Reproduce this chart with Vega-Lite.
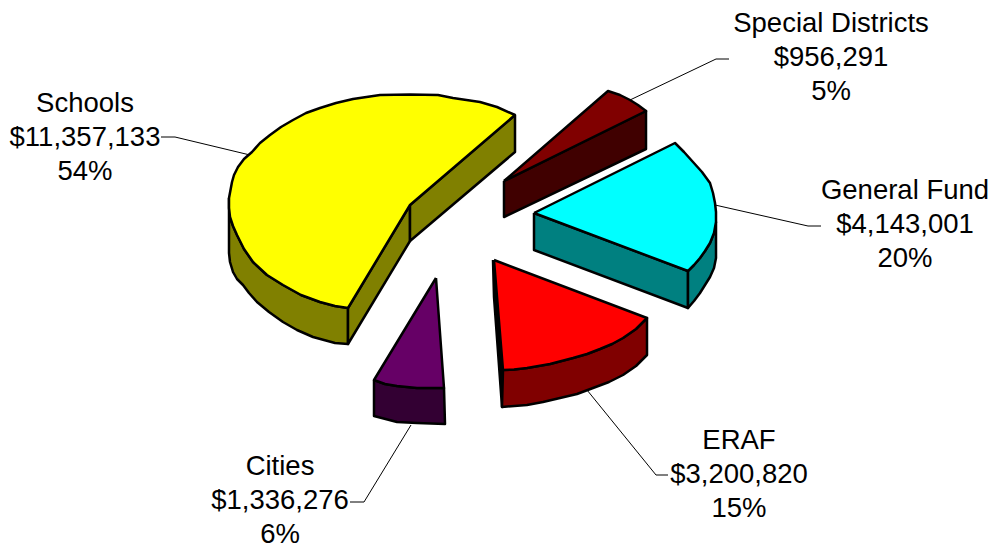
{"$schema":"https://vega.github.io/schema/vega-lite/v6.json","width":993,"height":544,"padding":0,"autosize":"none","background":"white","config":{"view":{"stroke":null}},
"datasets":{
"labels":[
{"slice":"Schools","label":"Schools\n$11,357,133\n54%","lx":85,"ly":104},
{"slice":"Special Districts","label":"Special Districts\n$956,291\n5%","lx":831,"ly":24},
{"slice":"General Fund","label":"General Fund\n$4,143,001\n20%","lx":905,"ly":191},
{"slice":"ERAF","label":"ERAF\n$3,200,820\n15%","lx":739,"ly":441},
{"slice":"Cities","label":"Cities\n$1,336,276\n6%","lx":280,"ly":467}],
"leaders":[
{"slice":"Schools","i":0,"px":161,"py":137},{"slice":"Schools","i":1,"px":175,"py":137},{"slice":"Schools","i":2,"px":250,"py":155},
{"slice":"Special Districts","i":0,"px":729,"py":59},{"slice":"Special Districts","i":1,"px":716,"py":59},{"slice":"Special Districts","i":2,"px":630,"py":100},
{"slice":"General Fund","i":0,"px":821,"py":226},{"slice":"General Fund","i":1,"px":808,"py":226},{"slice":"General Fund","i":2,"px":715,"py":205},
{"slice":"ERAF","i":0,"px":668,"py":475},{"slice":"ERAF","i":1,"px":656,"py":475},{"slice":"ERAF","i":2,"px":587,"py":390},
{"slice":"Cities","i":0,"px":350,"py":502},{"slice":"Cities","i":1,"px":364,"py":502},{"slice":"Cities","i":2,"px":411,"py":425}],
"shapes":[
{"piece":"a1","i":0,"px":229,"py":198},{"piece":"a1","i":1,"px":229,"py":208},{"piece":"a1","i":2,"px":230,"py":217},{"piece":"a1","i":3,"px":233,"py":226},{"piece":"a1","i":4,"px":237,"py":235},{"piece":"a1","i":5,"px":244,"py":249},{"piece":"a1","i":6,"px":253,"py":262},{"piece":"a1","i":7,"px":267,"py":275},{"piece":"a1","i":8,"px":283,"py":285},{"piece":"a1","i":9,"px":301,"py":295},{"piece":"a1","i":10,"px":320,"py":302},{"piece":"a1","i":11,"px":335,"py":306},{"piece":"a1","i":12,"px":348,"py":308},{"piece":"a1","i":13,"px":348,"py":344},{"piece":"a1","i":14,"px":335,"py":343},{"piece":"a1","i":15,"px":313,"py":337},{"piece":"a1","i":16,"px":297,"py":330},{"piece":"a1","i":17,"px":283,"py":322},{"piece":"a1","i":18,"px":269,"py":312},{"piece":"a1","i":19,"px":257,"py":302},{"piece":"a1","i":20,"px":249,"py":293},{"piece":"a1","i":21,"px":243,"py":285},{"piece":"a1","i":22,"px":237,"py":279},{"piece":"a1","i":23,"px":233,"py":272},{"piece":"a1","i":24,"px":230,"py":262},{"piece":"a1","i":25,"px":229,"py":253},{"piece":"a1","i":26,"px":229,"py":198},
{"piece":"a2","i":0,"px":348,"py":308},{"piece":"a2","i":1,"px":410,"py":205},{"piece":"a2","i":2,"px":410,"py":241},{"piece":"a2","i":3,"px":348,"py":344},{"piece":"a2","i":4,"px":348,"py":308},
{"piece":"a3","i":0,"px":410,"py":205},{"piece":"a3","i":1,"px":515,"py":115},{"piece":"a3","i":2,"px":515,"py":152},{"piece":"a3","i":3,"px":410,"py":241},{"piece":"a3","i":4,"px":410,"py":205},
{"piece":"a4","i":0,"px":515,"py":115},{"piece":"a4","i":1,"px":497,"py":107},{"piece":"a4","i":2,"px":480,"py":102},{"piece":"a4","i":3,"px":453,"py":98},{"piece":"a4","i":4,"px":438,"py":95},{"piece":"a4","i":5,"px":410,"py":94.5},{"piece":"a4","i":6,"px":380,"py":95},{"piece":"a4","i":7,"px":353,"py":99},{"piece":"a4","i":8,"px":336,"py":103},{"piece":"a4","i":9,"px":320,"py":108},{"piece":"a4","i":10,"px":306,"py":113},{"piece":"a4","i":11,"px":293,"py":120},{"piece":"a4","i":12,"px":281,"py":127},{"piece":"a4","i":13,"px":270,"py":135},{"piece":"a4","i":14,"px":260,"py":143},{"piece":"a4","i":15,"px":252,"py":152},{"piece":"a4","i":16,"px":244,"py":159},{"piece":"a4","i":17,"px":238,"py":167},{"piece":"a4","i":18,"px":234,"py":175},{"piece":"a4","i":19,"px":232,"py":182},{"piece":"a4","i":20,"px":229,"py":198},{"piece":"a4","i":21,"px":229,"py":208},{"piece":"a4","i":22,"px":230,"py":217},{"piece":"a4","i":23,"px":233,"py":226},{"piece":"a4","i":24,"px":237,"py":235},{"piece":"a4","i":25,"px":244,"py":249},{"piece":"a4","i":26,"px":253,"py":262},{"piece":"a4","i":27,"px":267,"py":275},{"piece":"a4","i":28,"px":283,"py":285},{"piece":"a4","i":29,"px":301,"py":295},{"piece":"a4","i":30,"px":320,"py":302},{"piece":"a4","i":31,"px":335,"py":306},{"piece":"a4","i":32,"px":348,"py":308},{"piece":"a4","i":33,"px":410,"py":205},{"piece":"a4","i":34,"px":515,"py":115},
{"piece":"b1","i":0,"px":504,"py":181},{"piece":"b1","i":1,"px":646,"py":111},{"piece":"b1","i":2,"px":646,"py":149},{"piece":"b1","i":3,"px":504,"py":217},{"piece":"b1","i":4,"px":504,"py":181},
{"piece":"b2","i":0,"px":504,"py":181},{"piece":"b2","i":1,"px":608,"py":91},{"piece":"b2","i":2,"px":620,"py":95},{"piece":"b2","i":3,"px":630,"py":100},{"piece":"b2","i":4,"px":638,"py":105},{"piece":"b2","i":5,"px":646,"py":111},{"piece":"b2","i":6,"px":504,"py":181},
{"piece":"c1","i":0,"px":534,"py":213},{"piece":"c1","i":1,"px":688,"py":271},{"piece":"c1","i":2,"px":688,"py":308},{"piece":"c1","i":3,"px":534,"py":250},{"piece":"c1","i":4,"px":534,"py":213},
{"piece":"c2","i":0,"px":688,"py":271},{"piece":"c2","i":1,"px":694,"py":265},{"piece":"c2","i":2,"px":700,"py":258},{"piece":"c2","i":3,"px":705,"py":251},{"piece":"c2","i":4,"px":710,"py":243},{"piece":"c2","i":5,"px":714,"py":233},{"piece":"c2","i":6,"px":716,"py":222},{"piece":"c2","i":7,"px":716,"py":258},{"piece":"c2","i":8,"px":714,"py":268},{"piece":"c2","i":9,"px":710,"py":277},{"piece":"c2","i":10,"px":705,"py":285},{"piece":"c2","i":11,"px":700,"py":293},{"piece":"c2","i":12,"px":694,"py":301},{"piece":"c2","i":13,"px":688,"py":308},{"piece":"c2","i":14,"px":688,"py":271},
{"piece":"c3","i":0,"px":534,"py":213},{"piece":"c3","i":1,"px":675,"py":143},{"piece":"c3","i":2,"px":684,"py":152},{"piece":"c3","i":3,"px":693,"py":162},{"piece":"c3","i":4,"px":702,"py":172},{"piece":"c3","i":5,"px":710,"py":183},{"piece":"c3","i":6,"px":713,"py":193},{"piece":"c3","i":7,"px":715,"py":203},{"piece":"c3","i":8,"px":716,"py":212},{"piece":"c3","i":9,"px":716,"py":222},{"piece":"c3","i":10,"px":714,"py":233},{"piece":"c3","i":11,"px":710,"py":243},{"piece":"c3","i":12,"px":705,"py":251},{"piece":"c3","i":13,"px":700,"py":258},{"piece":"c3","i":14,"px":694,"py":265},{"piece":"c3","i":15,"px":688,"py":271},{"piece":"c3","i":16,"px":534,"py":213},
{"piece":"d1","i":0,"px":493,"py":260},{"piece":"d1","i":1,"px":503,"py":370},{"piece":"d1","i":2,"px":502,"py":407},{"piece":"d1","i":3,"px":494,"py":297},{"piece":"d1","i":4,"px":493,"py":260},
{"piece":"d2","i":0,"px":503,"py":370},{"piece":"d2","i":1,"px":514,"py":369.5},{"piece":"d2","i":2,"px":527,"py":368},{"piece":"d2","i":3,"px":550,"py":364},{"piece":"d2","i":4,"px":573,"py":358},{"piece":"d2","i":5,"px":587,"py":354},{"piece":"d2","i":6,"px":600,"py":349},{"piece":"d2","i":7,"px":612,"py":344},{"piece":"d2","i":8,"px":623,"py":338},{"piece":"d2","i":9,"px":636,"py":329},{"piece":"d2","i":10,"px":647,"py":318},{"piece":"d2","i":11,"px":647,"py":355},{"piece":"d2","i":12,"px":636,"py":366},{"piece":"d2","i":13,"px":623,"py":375},{"piece":"d2","i":14,"px":609,"py":382},{"piece":"d2","i":15,"px":593,"py":388},{"piece":"d2","i":16,"px":577,"py":394},{"piece":"d2","i":17,"px":560,"py":398},{"piece":"d2","i":18,"px":543,"py":402},{"piece":"d2","i":19,"px":527,"py":405},{"piece":"d2","i":20,"px":502,"py":407},{"piece":"d2","i":21,"px":503,"py":370},
{"piece":"d3","i":0,"px":494,"py":260},{"piece":"d3","i":1,"px":647,"py":318},{"piece":"d3","i":2,"px":636,"py":329},{"piece":"d3","i":3,"px":623,"py":338},{"piece":"d3","i":4,"px":612,"py":344},{"piece":"d3","i":5,"px":600,"py":349},{"piece":"d3","i":6,"px":587,"py":354},{"piece":"d3","i":7,"px":573,"py":358},{"piece":"d3","i":8,"px":550,"py":364},{"piece":"d3","i":9,"px":527,"py":368},{"piece":"d3","i":10,"px":514,"py":369.5},{"piece":"d3","i":11,"px":503,"py":370},{"piece":"d3","i":12,"px":494,"py":260},
{"piece":"e1","i":0,"px":374,"py":380},{"piece":"e1","i":1,"px":385,"py":384},{"piece":"e1","i":2,"px":397,"py":386},{"piece":"e1","i":3,"px":417,"py":388},{"piece":"e1","i":4,"px":444,"py":388},{"piece":"e1","i":5,"px":445,"py":424},{"piece":"e1","i":6,"px":417,"py":423},{"piece":"e1","i":7,"px":397,"py":422},{"piece":"e1","i":8,"px":374,"py":416},{"piece":"e1","i":9,"px":374,"py":380},
{"piece":"e2","i":0,"px":436,"py":278},{"piece":"e2","i":1,"px":444,"py":388},{"piece":"e2","i":2,"px":417,"py":388},{"piece":"e2","i":3,"px":397,"py":386},{"piece":"e2","i":4,"px":385,"py":384},{"piece":"e2","i":5,"px":374,"py":380},{"piece":"e2","i":6,"px":436,"py":278}]
},
"encoding":{"x":{"field":"px","type":"quantitative","axis":null,"scale":{"domain":[0,993],"nice":false,"zero":false}},"y":{"field":"py","type":"quantitative","axis":null,"scale":{"domain":[544,0],"nice":false,"zero":false}}},
"layer":[
{"data":{"name":"leaders"},"mark":{"type":"line","stroke":"#000000","strokeWidth":1},"encoding":{"detail":{"field":"slice"},"order":{"field":"i","type":"quantitative"}}},
{"data":{"name":"shapes"},"mark":{"type":"line","stroke":"#000000","strokeWidth":2.5,"strokeJoin":"round"},"encoding":{"detail":{"field":"piece"},"order":{"field":"i","type":"quantitative"},"fill":{"field":"piece","type":"nominal","legend":null,"scale":{"domain":["a1","a2","a3","a4","b1","b2","c1","c2","c3","d1","d2","d3","e1","e2"],"range":["#808000","#808000","#808000","#ffff00","#400000","#800000","#008080","#008080","#00ffff","#000000","#800000","#ff0000","#330033","#660066"]}}}},
{"data":{"name":"labels"},"mark":{"type":"text","font":"Liberation Sans","fontSize":27.5,"lineBreak":"\n","lineHeight":34,"align":"center","baseline":"middle","color":"#000000"},"encoding":{"x":{"field":"lx","type":"quantitative"},"y":{"field":"ly","type":"quantitative"},"text":{"field":"label"}}}
]}
